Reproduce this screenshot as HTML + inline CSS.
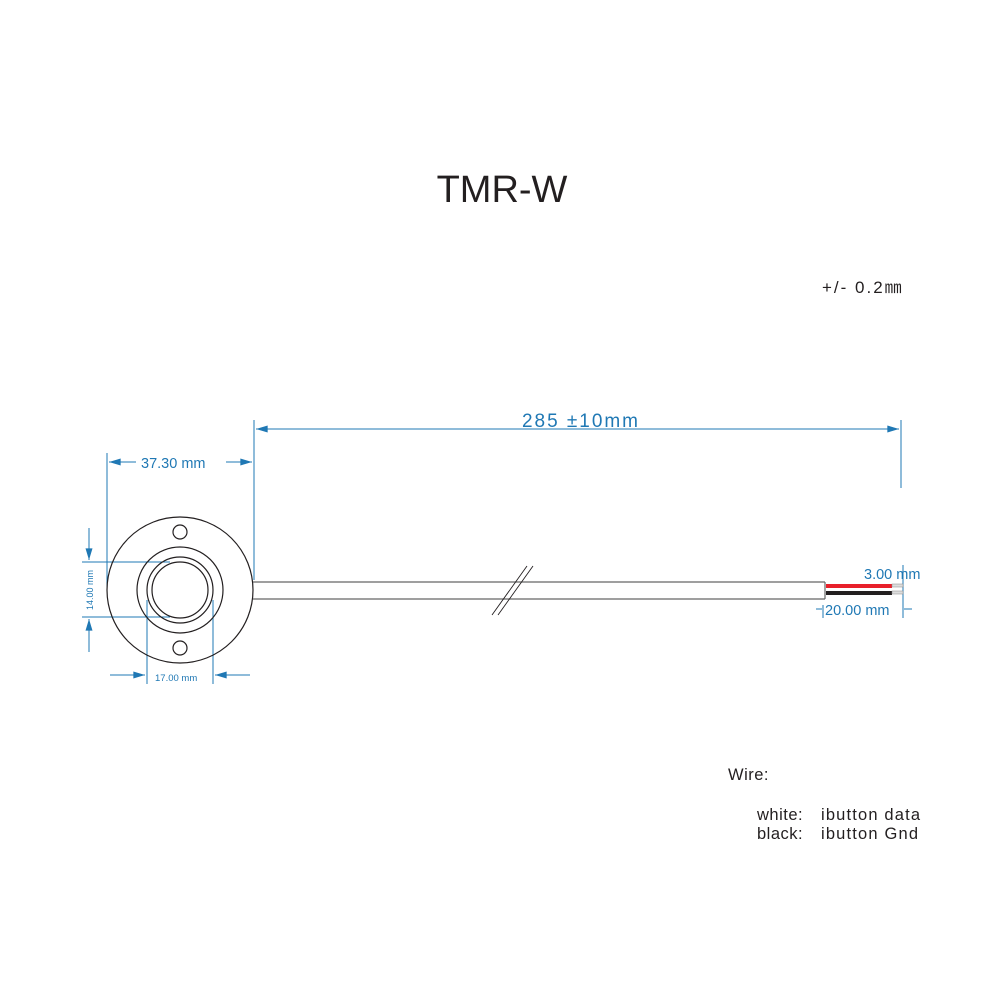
<!DOCTYPE html>
<html><head><style>
html,body{margin:0;padding:0;background:#fff;}
svg{display:block;}
text{font-family:"Liberation Sans",sans-serif;}
</style></head><body>
<svg width="1000" height="1000" viewBox="0 0 1000 1000">
<defs>
<marker id="a" viewBox="0 0 10 6" refX="10" refY="3" markerWidth="12" markerHeight="7" orient="auto-start-reverse" markerUnits="userSpaceOnUse"><path d="M0,0 L10,3 L0,6 z" fill="#1f78b4"/></marker>
</defs>
<text x="502" y="202" font-size="38" text-anchor="middle" fill="#231f20">TMR-W</text>
<text x="822" y="293" font-size="17" letter-spacing="2" fill="#231f20">+/- 0.2㎜</text>

<g stroke="#1f78b4" stroke-width="1" fill="none">
<line x1="254" y1="420" x2="254" y2="580"/>
<line x1="901" y1="420" x2="901" y2="488"/>
<line x1="256" y1="429" x2="521" y2="429" marker-start="url(#a)"/>
<line x1="521" y1="429" x2="899" y2="429" marker-end="url(#a)"/>
<line x1="107" y1="453" x2="107" y2="590"/>
<line x1="109" y1="462" x2="136" y2="462" marker-start="url(#a)"/>
<line x1="226" y1="462" x2="252" y2="462" marker-end="url(#a)"/>
<line x1="82" y1="562" x2="170" y2="562"/>
<line x1="82" y1="617" x2="170" y2="617"/>
<line x1="89" y1="528" x2="89" y2="560" marker-end="url(#a)"/>
<line x1="89" y1="652" x2="89" y2="619" marker-end="url(#a)"/>
<line x1="147" y1="600" x2="147" y2="684"/>
<line x1="213" y1="600" x2="213" y2="684"/>
<line x1="110" y1="675" x2="145" y2="675" marker-end="url(#a)"/>
<line x1="250" y1="675" x2="215" y2="675" marker-end="url(#a)"/>
<line x1="903" y1="565" x2="903" y2="618"/>
<line x1="823" y1="605" x2="823" y2="618"/>
<line x1="816" y1="609" x2="822" y2="609"/>
<line x1="904" y1="609" x2="912" y2="609"/>
</g>
<text x="580" y="427" font-size="19" fill="#1f78b4" text-anchor="middle" textLength="116">285 ±10mm</text>
<text x="141" y="468" font-size="14.5" fill="#1f78b4">37.30 mm</text>
<text x="155" y="681" font-size="9.5" fill="#1f78b4">17.00 mm</text>
<text x="0" y="0" font-size="9" fill="#1f78b4" transform="translate(93,610) rotate(-90)">14.00 mm</text>
<text x="864" y="579" font-size="14.5" fill="#1f78b4">3.00 mm</text>
<text x="825" y="615" font-size="14.5" fill="#1f78b4">20.00 mm</text>

<g stroke="#231f20" stroke-width="1.2" fill="none">
<circle cx="180" cy="590" r="73"/>
<circle cx="180" cy="590" r="43"/>
<circle cx="180" cy="590" r="33"/>
<circle cx="180" cy="590" r="28"/>
<circle cx="180" cy="532" r="7"/>
<circle cx="180" cy="648" r="7"/>
</g>
<g stroke="#666" stroke-width="1.2" fill="none">
<line x1="253" y1="582" x2="825" y2="582"/>
<line x1="253" y1="599" x2="825" y2="599"/>
<line x1="825" y1="582" x2="825" y2="599"/>
</g>
<g stroke="#231f20" stroke-width="0.9">
<line x1="492" y1="615" x2="527" y2="566"/>
<line x1="498" y1="615" x2="533" y2="566"/>
</g>
<rect x="826" y="584" width="66" height="4" fill="#e8202a"/>
<rect x="826" y="591" width="66" height="4" fill="#231f20"/>
<rect x="892" y="584" width="11" height="3" fill="#ddd" stroke="#888" stroke-width="0.5"/>
<rect x="892" y="591" width="11" height="3" fill="#ddd" stroke="#888" stroke-width="0.5"/>

<g font-size="16.5" fill="#231f20">
<text x="728" y="780" letter-spacing="0.5">Wire:</text>
<text x="757" y="820" letter-spacing="0.5">white:</text><text x="821" y="820" textLength="99">ibutton data</text>
<text x="757" y="839" letter-spacing="0.5">black:</text><text x="821" y="839" textLength="97">ibutton Gnd</text>
</g>
</svg>
</body></html>
